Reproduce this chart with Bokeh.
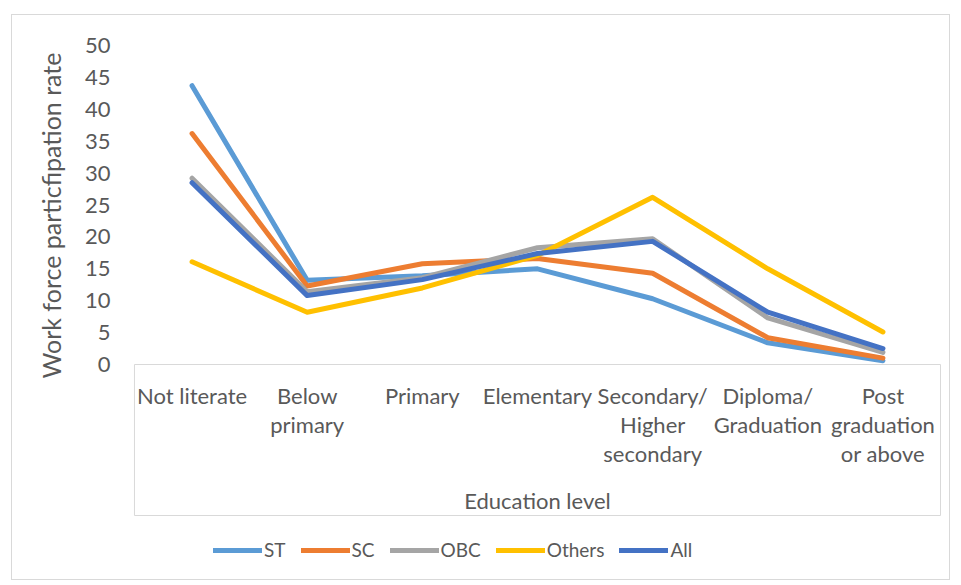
from bokeh.plotting import figure
from bokeh.models import FactorRange, Range1d, Legend, LegendItem, SingleIntervalTicker, Title
from bokeh.core.properties import value
from bokeh.embed import file_html
from bokeh.resources import INLINE

# Education levels (x categories) and work force participation rate by social group
levels = ["Not literate", "Below\nprimary", "Primary", "Elementary",
          "Secondary/\nHigher\nsecondary", "Diploma/\nGraduation", "Post\ngraduation\nor above"]
st = [43.7, 13.2, 13.9, 15.0, 10.3, 3.4, 0.6]
sc = [36.2, 12.3, 15.8, 16.6, 14.3, 4.2, 1.0]
obc = [29.2, 11.4, 13.6, 18.3, 19.7, 7.3, 1.9]
others = [16.1, 8.2, 12.0, 17.1, 26.2, 15.0, 5.1]
all_groups = [28.5, 10.8, 13.3, 17.4, 19.3, 8.2, 2.5]

series_names = ["ST", "SC", "OBC", "Others", "All"]
series_values = [st, sc, obc, others, all_groups]
series_colors = ["#5B9BD5", "#ED7D31", "#A5A5A5", "#FFC000", "#4472C4"]

FONT = "Lato"
TXT = "#595959"
EDGE = "#D9D9D9"

# layout in pixels
Y_MAX = 50
PX_PER_UNIT = 6.38          # vertical scale of the value axis
BELOW_ZERO_PX = 216         # frame continues below the value axis down to the chart edge
BOX_DEPTH = 151             # height of the category label box under the value axis
SIDE_PAD_PX = 2             # frame overhang left/right so the box edges are not clipped
n = len(levels)
band_px = 810 / n
pad_units = SIDE_PAD_PX / band_px

y_start = -BELOW_ZERO_PX / PX_PER_UNIT
box_bottom = -BOX_DEPTH / PX_PER_UNIT

p = figure(width=939, height=566, output_backend="svg", toolbar_location=None,
           x_range=FactorRange(*levels, range_padding=2 * pad_units, range_padding_units="absolute"),
           y_range=Range1d(y_start, Y_MAX), x_axis_location=None,
           min_border_left=118, min_border_right=7, min_border_top=30, min_border_bottom=1,
           styles={"border": "1px solid #D9D9D9"})
p.margin = (14, 0, 0, 11)
p.outline_line_color = None
p.background_fill_color = "white"
p.border_fill_color = "white"
p.xgrid.visible = False
p.ygrid.visible = False

# category box: value-axis baseline, side edges and bottom edge (synthetic x: 0..n)
p.segment(x0=[0, 0, n, 0], y0=[0, box_bottom, box_bottom, box_bottom],
          x1=[n, 0, n, n], y1=[0, 0, 0, box_bottom],
          line_color=EDGE, line_width=1)

renderers = []
for name, vals, col in zip(series_names, series_values, series_colors):
    r = p.line(levels, vals, line_color=col, line_width=5, line_join="round", line_cap="round")
    renderers.append((name, r))

# category labels under the baseline and the axis title inside the box
p.text(x=levels, y=[0] * n, text=levels, text_font=value(FONT), text_font_size="22px",
       text_color=TXT, text_align="center", text_baseline="top", text_line_height=1.08,
       y_offset=17)
p.text(x=[levels[n // 2]], y=[0], text=["Education level"], text_font=value(FONT),
       text_font_size="22px", text_color=TXT, text_align="center", text_baseline="middle",
       y_offset=136)

# y axis: labels only, over 0..50
p.yaxis.bounds = (0, Y_MAX)
p.yaxis.ticker = SingleIntervalTicker(interval=5)
p.yaxis.axis_line_color = None
p.yaxis.major_tick_line_color = None
p.yaxis.minor_tick_line_color = None
p.yaxis.major_tick_out = 0
p.yaxis.minor_tick_out = 0
p.yaxis.major_label_standoff = 20
p.yaxis.major_label_text_font = FONT
p.yaxis.major_label_text_font_size = "22px"
p.yaxis.major_label_text_color = TXT

# value-axis title, centred on the 0..50 span rather than on the whole frame
p.add_layout(Title(text="Work force particfipation rate", align="left", offset=202,
                   standoff=32, text_font=FONT, text_font_size="25px",
                   text_font_style="normal", text_color=TXT), "left")

legend = Legend(items=[LegendItem(label=nm, renderers=[r]) for nm, r in renderers],
                orientation="horizontal", location=(83, 19),
                glyph_width=49, glyph_height=20, label_height=20, label_standoff=2,
                spacing=15, padding=0, margin=0,
                border_line_color=None, background_fill_alpha=0,
                label_text_font=FONT, label_text_font_size="19px", label_text_color=TXT)
p.add_layout(legend)

open("out.html", "w").write(file_html(p, INLINE))
